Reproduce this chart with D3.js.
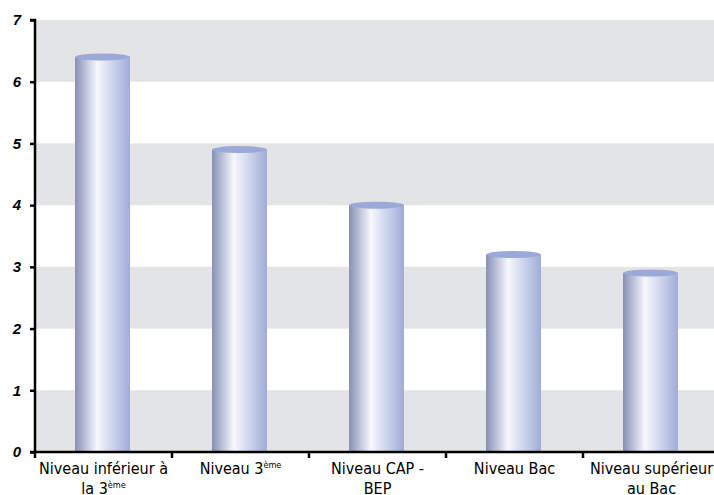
<!DOCTYPE html>
<html lang="fr">
<head>
<meta charset="utf-8">
<title>Niveau</title>
<script src="https://cdnjs.cloudflare.com/ajax/libs/d3/7.8.5/d3.min.js"></script>
<style>
body { margin: 0; background: #fff; }
</style>
</head>
<body>
<script>

// data
var categories = ["inf3", "3eme", "cap", "bac", "sup"];
var labelLines = [
	[["Niveau inférieur à", ""], ["la 3", "ème"]],
	[["Niveau 3", "ème"]],
	[["Niveau CAP -", ""], ["BEP", ""]],
	[["Niveau Bac", ""]],
	[["Niveau supérieur", ""], ["au Bac", ""]]
];
var values = [6.4, 4.9, 4.0, 3.2, 2.9];
var yTicks = [0, 1, 2, 3, 4, 5, 6, 7];

var W = 714, H = 495;
var mLeft = 35, mTop = 20, mBottom = 452, mRight = 720;

var svg = d3.select("body").append("svg")
	.attr("width", W)
	.attr("height", H);

var x = d3.scaleBand().domain(categories).range([mLeft, mRight]);
var y = d3.scaleLinear().domain([0, 7]).range([mBottom, mTop]);

var defs = svg.append("defs");
var grad = defs.append("linearGradient")
	.attr("id", "cyl")
	.attr("x1", "0%").attr("x2", "100%")
	.attr("y1", "0%").attr("y2", "0%");
grad.append("stop").attr("offset", "0%").attr("stop-color", "#8790b6");
grad.append("stop").attr("offset", "40%").attr("stop-color", "#f6f8fd");
grad.append("stop").attr("offset", "100%").attr("stop-color", "#a0acd8");

// alternating bands
svg.selectAll("rect.band")
	.data(yTicks.slice(0, -1).filter(function(d){ return d % 2 === 0; }))
	.enter()
	.append("rect")
	.attr("class", "band")
	.attr("x", mLeft)
	.attr("y", function(d){ return y(d + 1); })
	.attr("width", mRight - mLeft)
	.attr("height", function(d){ return y(d) - y(d + 1); })
	.attr("fill", "#e3e4e6");

// cylinders
var barW = 55;
var ry = 3.5;
var bars = svg.selectAll("g.bar")
	.data(values)
	.enter()
	.append("g")
	.attr("class", "bar");

bars.append("rect")
	.attr("x", function(d, i){ return x(categories[i]) + x.bandwidth() / 2 - barW / 2 - 1; })
	.attr("y", function(d){ return y(d); })
	.attr("width", barW)
	.attr("height", function(d){ return mBottom - y(d); })
	.attr("fill", "url(#cyl)");

bars.append("ellipse")
	.attr("cx", function(d, i){ return x(categories[i]) + x.bandwidth() / 2 - 1; })
	.attr("cy", function(d){ return y(d); })
	.attr("rx", barW / 2)
	.attr("ry", ry)
	.attr("fill", "#9ba8d8");

// y axis
var yAxis = svg.append("g")
	.attr("transform", "translate(" + mLeft + ",0)")
	.call(d3.axisLeft(y).tickValues(yTicks).tickFormat(d3.format("d")).tickSize(5).tickPadding(9));
yAxis.select(".domain").attr("stroke", "#000").attr("stroke-width", 2.5)
	.attr("d", "M-5," + mTop + "H0V" + mBottom);
yAxis.selectAll(".tick line").attr("stroke", "#000").attr("stroke-width", 2.5);
yAxis.selectAll(".tick text")
	.style("font-family", "'Liberation Sans', Arial, sans-serif")
	.style("font-size", "15px")
	.style("font-weight", "bold")
	.style("font-style", "italic")
	.attr("fill", "#000");

// x axis
var xAxisG = svg.append("g");
xAxisG.append("line")
	.attr("x1", mLeft - 5).attr("x2", mRight)
	.attr("y1", mBottom).attr("y2", mBottom)
	.attr("stroke", "#000").attr("stroke-width", 2.5);
xAxisG.selectAll("line.tk")
	.data(categories)
	.enter()
	.append("line")
	.attr("class", "tk")
	.attr("x1", function(d){ return x(d); })
	.attr("x2", function(d){ return x(d); })
	.attr("y1", mBottom)
	.attr("y2", mBottom + 6)
	.attr("stroke", "#000").attr("stroke-width", 2.5);

var labels = svg.selectAll("text.cat")
	.data(labelLines)
	.enter()
	.append("text")
	.attr("class", "cat")
	.attr("text-anchor", "middle")
	.style("font-family", "'Liberation Sans Narrow', 'DejaVu Sans Condensed', sans-serif")
	.style("font-size", "16px")
	.style("font-weight", "500")
	.attr("fill", "#000");

labels.each(function(lines, i){
	var cx = x(categories[i]) + x.bandwidth() / 2;
	var t = d3.select(this);
	lines.forEach(function(ln, j){
		t.append("tspan")
			.attr("x", cx)
			.attr("y", mBottom + 22 + j * 20)
			.text(ln[0]);
		if(ln[1]){
			t.append("tspan")
				.attr("dy", -6)
				.style("font-size", "9px")
				.text(ln[1]);
		}
	});
});

</script>
</body>
</html>
